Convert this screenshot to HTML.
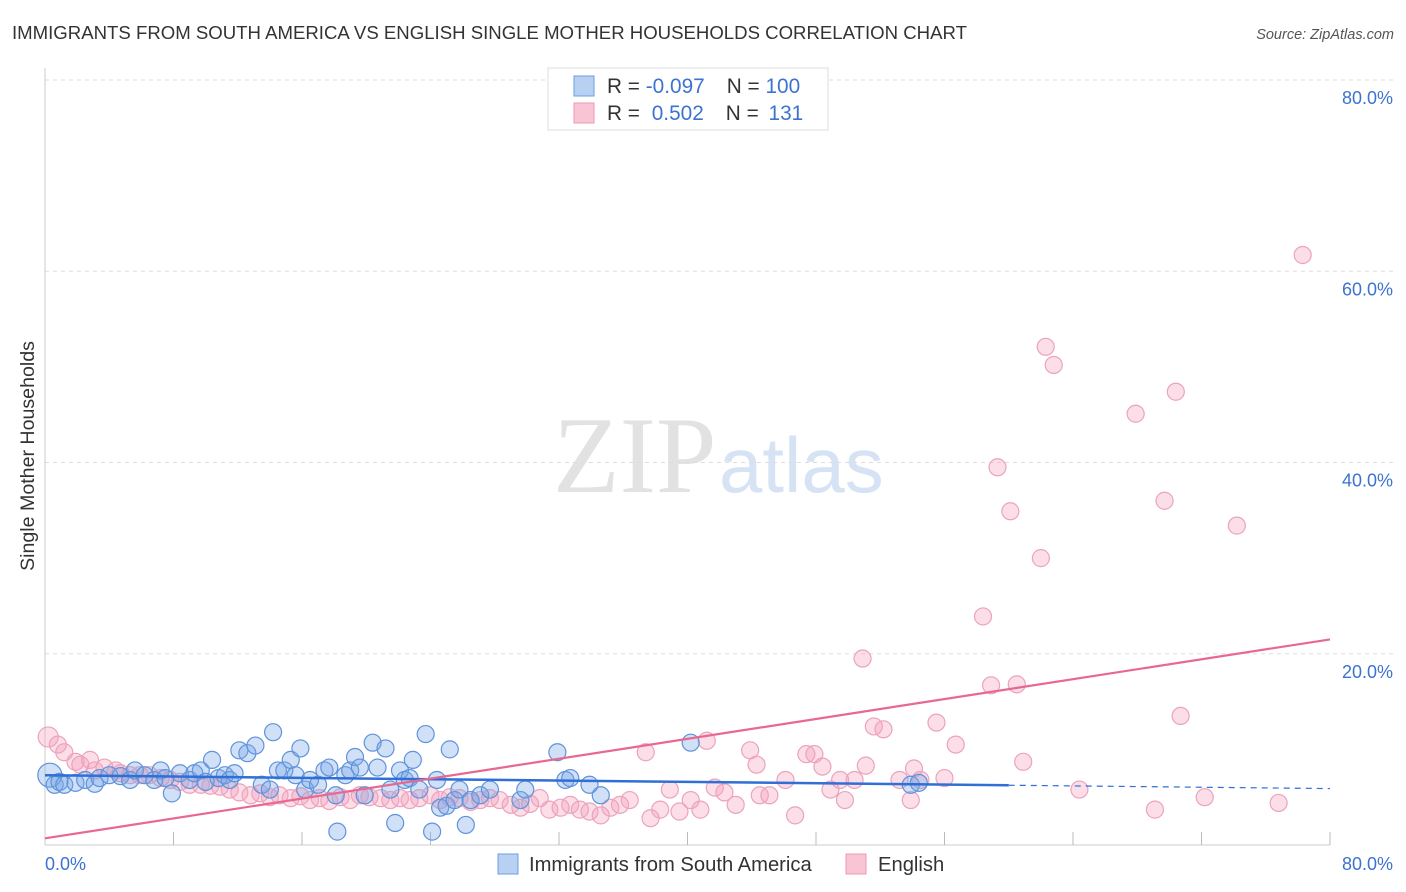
<!DOCTYPE html>
<html><head><meta charset="utf-8">
<style>
body{margin:0;background:#fff;font-family:"Liberation Sans",sans-serif;}
svg{display:block}
</style></head>
<body>
<svg id="chart" width="1406" height="892">
<text x="12" y="39" font-size="18.6" fill="#333">IMMIGRANTS FROM SOUTH AMERICA VS ENGLISH SINGLE MOTHER HOUSEHOLDS CORRELATION CHART</text>
<text x="1394" y="39" font-size="14.5" fill="#555" font-style="italic" text-anchor="end">Source: ZipAtlas.com</text>
<text transform="translate(34,456) rotate(-90)" font-size="19.6" fill="#333" text-anchor="middle">Single Mother Households</text>
<g>
<text x="553" y="492" font-family="Liberation Serif,serif" font-size="109" fill="#e2e2e2">ZIP</text>
<text x="719" y="492" font-size="78" fill="#d6e3f5">atlas</text>
</g>
<g id="grid"></g>
<g id="points"></g>
<g id="trends"></g>
<g>
<rect x="548" y="68" width="280" height="62" fill="#fff" stroke="#ddd"/>
<rect x="574" y="76" width="20" height="20" fill="#b8d1f3" stroke="#6d9de0"/>
<rect x="574" y="103" width="20" height="20" fill="#f9c5d5" stroke="#eb9ab5"/>
<text x="607" y="93" font-size="20.8" fill="#333">R = <tspan fill="#3c73d0">-0.097</tspan><tspan dx="22">N = </tspan><tspan fill="#3c73d0">100</tspan></text>
<text x="607" y="120" font-size="20.8" fill="#333">R = <tspan dx="6" fill="#3c73d0">0.502</tspan><tspan dx="22">N = </tspan><tspan dx="4" fill="#3c73d0">131</tspan></text>
</g>
<g>
<rect x="498" y="854" width="20" height="20" fill="#b8d1f3" stroke="#6d9de0"/>
<text x="529" y="871" font-size="20.2" fill="#333">Immigrants from South America</text>
<rect x="846" y="854" width="20" height="20" fill="#f9c5d5" stroke="#eb9ab5"/>
<text x="878" y="871" font-size="20.2" fill="#333">English</text>
</g>
</svg>
<script>
const yTicks=[20,40,60,80];
const xTickCount=10;
const blueX=[0.3,0.6,0.9,1.2,1.9,2.5,3.1,3.4,4.0,4.7,5.3,5.6,6.2,6.8,7.2,7.5,7.9,8.4,9.0,9.3,9.7,10.0,10.4,10.8,11.2,11.5,11.8,12.1,12.6,13.1,13.5,14.0,14.2,14.5,14.9,15.3,15.6,15.9,16.2,16.5,17.0,17.4,17.7,18.1,18.2,18.7,19.0,19.3,19.6,19.9,20.4,20.7,21.2,21.5,21.8,22.1,22.4,22.7,22.9,23.3,23.7,24.1,24.4,24.6,25.0,25.2,25.5,25.8,26.2,26.5,27.1,27.7,29.6,29.9,31.9,32.4,32.7,33.9,34.6,40.2,53.9,54.4];
const blueY=[7.3,6.3,6.6,6.3,6.5,6.8,6.4,7.0,7.3,7.2,6.8,7.8,7.3,6.8,7.8,7.0,5.4,7.5,6.8,7.5,7.8,6.6,8.9,7.0,7.3,6.8,7.5,9.9,9.6,10.4,6.3,5.8,11.8,7.8,7.8,8.9,7.3,10.1,5.8,6.8,6.3,7.8,8.1,5.2,1.4,7.3,7.8,9.2,8.1,5.2,10.7,8.1,10.1,5.8,2.3,7.8,6.8,7.0,8.9,5.8,11.6,1.4,6.8,3.9,4.1,10.0,4.7,5.8,2.1,4.7,5.2,5.8,4.7,5.8,9.7,6.8,7.0,6.3,5.2,10.7,6.3,6.5];
const pinkX=[0.2,0.8,1.2,1.9,2.2,2.8,3.1,3.7,4.4,4.7,5.3,5.9,6.5,7.2,7.8,8.4,9.0,9.7,10.3,10.9,11.5,12.1,12.8,13.4,14.0,14.6,15.3,15.9,16.5,17.1,17.7,18.4,19.0,19.6,20.2,20.9,21.5,22.1,22.7,23.3,24.0,24.6,25.2,25.8,26.5,27.1,27.7,28.3,29.0,29.6,30.2,30.8,31.4,32.1,32.7,33.3,33.9,34.6,35.2,35.8,36.4,37.4,37.7,38.3,38.9,39.5,40.2,40.8,41.2,41.7,42.3,43.0,43.9,44.3,44.5,45.1,46.1,46.7,47.4,47.9,48.4,48.9,49.5,49.8,50.4,50.9,51.1,51.6,52.2,53.2,53.9,54.1,54.5,55.5,56.0,56.7,58.4,58.9,59.3,60.1,60.5,60.9,62.0,62.3,62.8,64.4,67.9,69.1,69.7,70.4,70.7,72.2,74.2,76.8,78.3];
const pinkY=[11.3,10.5,9.7,8.7,8.4,8.9,7.8,8.1,7.8,7.5,7.3,7.3,7.3,7.0,6.8,6.6,6.3,6.3,6.2,6.1,5.8,5.5,5.2,5.4,5.0,5.2,4.9,5.1,4.7,4.9,4.6,5.0,4.7,5.2,5.0,4.9,4.7,4.9,4.7,4.9,5.2,4.7,5.0,4.9,4.5,4.7,4.9,4.7,4.2,3.9,4.3,4.9,3.7,3.9,4.2,3.7,3.5,3.1,3.9,4.2,4.7,9.7,2.8,3.7,5.8,3.5,4.7,3.7,10.9,6.0,5.5,4.2,9.9,8.4,5.2,5.2,6.8,3.1,9.5,9.5,8.2,5.8,6.8,4.7,6.8,19.5,8.3,12.4,12.1,6.8,4.7,8.0,6.8,12.8,7.0,10.5,23.9,16.7,39.5,34.9,16.8,8.7,30.0,52.1,50.2,5.8,45.1,3.7,36.0,47.4,13.5,5.0,33.4,4.4,61.7];
const blueTrend=[7.3,5.9];
const pinkTrend=[0.7,21.5];

const NS="http://www.w3.org/2000/svg";
const X0=45,X1=1330,Y0=845,Y80=80;
const sx=v=>X0+(v/80)*(X1-X0);
const sy=v=>Y0-(v/80)*(Y0-Y80);
function mk(tag,attrs,parent){const e=document.createElementNS(NS,tag);for(const k in attrs)e.setAttribute(k,attrs[k]);parent.appendChild(e);return e;}
const grid=document.getElementById('grid');
yTicks.forEach(t=>{
  const l=mk('line',{x1:X0,x2:1393,y1:sy(t),y2:sy(t),stroke:'#ddd','stroke-dasharray':'4,4'},grid);
  
  
  const tx=mk('text',{x:1393,y:sy(t)+24,'font-size':18,fill:'#3c73d0','text-anchor':'end'},grid);
  tx.textContent=t.toFixed(1)+'%';
  
  
});
const ax=mk('line',{x1:X0,x2:X0,y1:68,y2:Y0,stroke:'#ccc'},grid);


const bx=mk('line',{x1:X0,x2:X1,y1:Y0,y2:Y0,stroke:'#ccc'},grid);


for(let i=1;i<=xTickCount;i++){
  const v=i*80/xTickCount;
  const tk=mk('line',{x1:sx(v),x2:sx(v),y1:Y0-13,y2:Y0,stroke:'#bbb'},grid);
  
  
}
const xl=mk('text',{x:45,y:870,'font-size':18,fill:'#3c73d0'},grid);xl.textContent='0.0%';


const xr=mk('text',{x:1393,y:870,'font-size':18,fill:'#3c73d0','text-anchor':'end'},grid);xr.textContent='80.0%';



const pts=document.getElementById('points');
pinkX.forEach((x,i)=>{
  const c=mk('circle',{cx:sx(x),cy:sy(pinkY[i]),r:i===0?10:8.5,fill:'rgba(244,160,188,0.35)',stroke:'#eca3bb','stroke-width':1.2},pts);
  
  
});
blueX.forEach((x,i)=>{
  const c=mk('circle',{cx:sx(x),cy:sy(blueY[i]),r:i===0?12:8.5,fill:'rgba(120,165,230,0.35)',stroke:'#5f93dc','stroke-width':1.2},pts);
  
  
});
const tr=document.getElementById('trends');
const bAt=v=>blueTrend[0]+(blueTrend[1]-blueTrend[0])*v/80;
const b1=mk('line',{x1:sx(0),y1:sy(bAt(0)),x2:sx(60),y2:sy(bAt(60)),stroke:'#2f6fd6','stroke-width':2.5},tr);


const b2=mk('line',{x1:sx(60),y1:sy(bAt(60)),x2:sx(80),y2:sy(bAt(80)),stroke:'#2f6fd6','stroke-width':1.2,'stroke-dasharray':'6,5'},tr);


const p1=mk('line',{x1:sx(0),y1:sy(pinkTrend[0]),x2:sx(80),y2:sy(pinkTrend[1]),stroke:'#e8688f','stroke-width':2.2},tr);


</script>
</body></html>
